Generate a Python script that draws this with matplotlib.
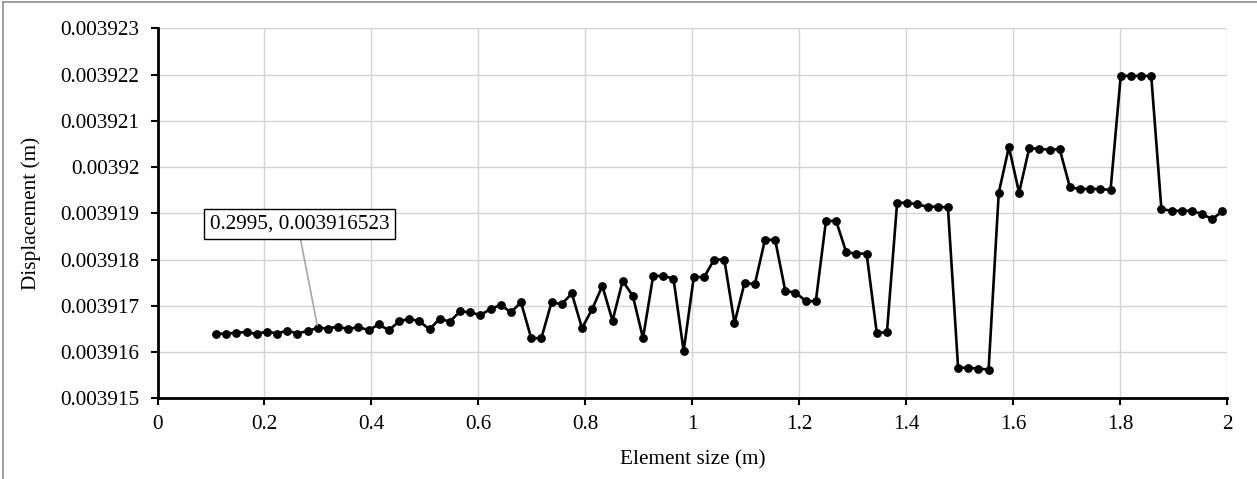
import matplotlib.pyplot as plt
from matplotlib.lines import Line2D

# element size (m)
element_size = [
    0.1095, 0.1285, 0.1475, 0.1665, 0.1855, 0.2045, 0.2235, 0.2425, 0.2615, 0.2805,
    0.2995, 0.3185, 0.3375, 0.3565, 0.3755, 0.3945, 0.4135, 0.4325, 0.4515, 0.4705,
    0.4895, 0.5085, 0.5275, 0.5465, 0.5655, 0.5845, 0.6035, 0.6225, 0.6415, 0.6605,
    0.6795, 0.6985, 0.7175, 0.7365, 0.7555, 0.7745, 0.7935, 0.8125, 0.8315, 0.8505,
    0.8695, 0.8885, 0.9075, 0.9265, 0.9455, 0.9645, 0.9835, 1.0025, 1.0215, 1.0405,
    1.0595, 1.0785, 1.0975, 1.1165, 1.1355, 1.1545, 1.1735, 1.1925, 1.2115, 1.2305,
    1.2495, 1.2685, 1.2875, 1.3065, 1.3255, 1.3445, 1.3635, 1.3825, 1.4015, 1.4205,
    1.4395, 1.4585, 1.4775, 1.4965, 1.5155, 1.5345, 1.5535, 1.5725, 1.5915, 1.6105,
    1.6295, 1.6485, 1.6675, 1.6865, 1.7055, 1.7245, 1.7435, 1.7625, 1.7815, 1.8005,
    1.8195, 1.8385, 1.8575, 1.8765, 1.8955, 1.9145, 1.9335, 1.9525, 1.9715, 1.9905,
]

# displacement (m)
displacement = [
    0.0039164000, 0.0039163910, 0.0039164220, 0.0039164280, 0.0039163910,
    0.0039164430, 0.0039164000, 0.0039164650, 0.0039164000, 0.0039164570,
    0.0039165230, 0.0039165090, 0.0039165520, 0.0039164930, 0.0039165430,
    0.0039164720, 0.0039165960, 0.0039164720, 0.0039166610, 0.0039167170,
    0.0039166670, 0.0039164900, 0.0039167200, 0.0039166570, 0.0039168800,
    0.0039168580, 0.0039168000, 0.0039169290, 0.0039170210, 0.0039168580,
    0.0039170730, 0.0039163000, 0.0039163000, 0.0039170730, 0.0039170360,
    0.0039172660, 0.0039165150, 0.0039169290, 0.0039174290, 0.0039166780,
    0.0039175360, 0.0039172150, 0.0039163000, 0.0039176440, 0.0039176440,
    0.0039175880, 0.0039160210, 0.0039176300, 0.0039176150, 0.0039180000,
    0.0039180000, 0.0039166280, 0.0039175000, 0.0039174640, 0.0039184280,
    0.0039184280, 0.0039173200, 0.0039172860, 0.0039171060, 0.0039170930,
    0.0039188350, 0.0039188350, 0.0039181560, 0.0039181280, 0.0039181280,
    0.0039164140, 0.0039164280, 0.0039192280, 0.0039192280, 0.0039191920,
    0.0039191420, 0.0039191420, 0.0039191280, 0.0039156600, 0.0039156600,
    0.0039156420, 0.0039156200, 0.0039194460, 0.0039204330, 0.0039194460,
    0.0039204120, 0.0039203910, 0.0039203770, 0.0039203840, 0.0039195620,
    0.0039195260, 0.0039195260, 0.0039195260, 0.0039195040, 0.0039219720,
    0.0039219720, 0.0039219720, 0.0039219720, 0.0039190900, 0.0039190540,
    0.0039190540, 0.0039190540, 0.0039189830, 0.0039188760, 0.0039190390,
]

y_ticks = [0.003915, 0.003916, 0.003917, 0.003918, 0.003919,
           0.00392, 0.003921, 0.003922, 0.003923]
y_tick_labels = ['0.003915', '0.003916', '0.003917', '0.003918', '0.003919',
                 '0.00392', '0.003921', '0.003922', '0.003923']
x_ticks = [0, 0.2, 0.4, 0.6, 0.8, 1.0, 1.2, 1.4, 1.6, 1.8, 2.0]
x_tick_labels = ['0', '0.2', '0.4', '0.6', '0.8', '1', '1.2', '1.4', '1.6', '1.8', '2']

label_x, label_y = 0.2995, 0.003916523

plt.rcParams['font.family'] = ['Liberation Serif', 'DejaVu Serif']
FS = 15.3

fig = plt.figure(figsize=(12.57, 4.79), dpi=100)
ax = fig.add_axes([0.1253, 0.1685, 0.8512, 0.7724])

ax.plot(element_size, displacement, color='black', lw=1.9,
        marker='o', markersize=5.3, zorder=3)

ax.set_xlim(0, 2)
ax.set_ylim(0.003915, 0.003923)
ax.set_xticks(x_ticks)
ax.set_xticklabels(x_tick_labels)
ax.set_yticks(y_ticks)
ax.set_yticklabels(y_tick_labels)
ax.tick_params(labelsize=FS, direction='out', length=5, width=1.5, color='black')
ax.tick_params(axis='x', pad=7)
ax.tick_params(axis='y', pad=8)

ax.grid(True, color='#d4d4d4', lw=1)
ax.set_axisbelow(True)
for side in ['top', 'right']:
    ax.spines[side].set_visible(False)
for side in ['left', 'bottom']:
    ax.spines[side].set_linewidth(2)
    ax.spines[side].set_zorder(4)

ax.set_xlabel('Element size (m)', fontsize=FS, labelpad=12)
ax.set_ylabel('Displacement (m)', fontsize=FS, labelpad=14)

# data label with leader line
ax.annotate(f'{label_x}, {label_y}', xy=(label_x, label_y),
            xytext=(0.2653, 0.0039187643), textcoords='data',
            ha='center', va='center', fontsize=FS,
            bbox=dict(boxstyle='square,pad=0.25', fc='white', ec='black', lw=1),
            arrowprops=dict(arrowstyle='-', color='#a6a6a6', lw=1.2,
                            relpos=(0.5, 0), shrinkA=0, shrinkB=2),
            zorder=5)

# outer chart border
fig.add_artist(Line2D([3 / 1257, 1], [1 - 2 / 479, 1 - 2 / 479],
                      transform=fig.transFigure, color='#8c8c8c', lw=1.2))
fig.add_artist(Line2D([3 / 1257, 3 / 1257], [0, 1 - 2 / 479],
                      transform=fig.transFigure, color='#8c8c8c', lw=1.2))

fig.savefig('out.png', dpi=100)
